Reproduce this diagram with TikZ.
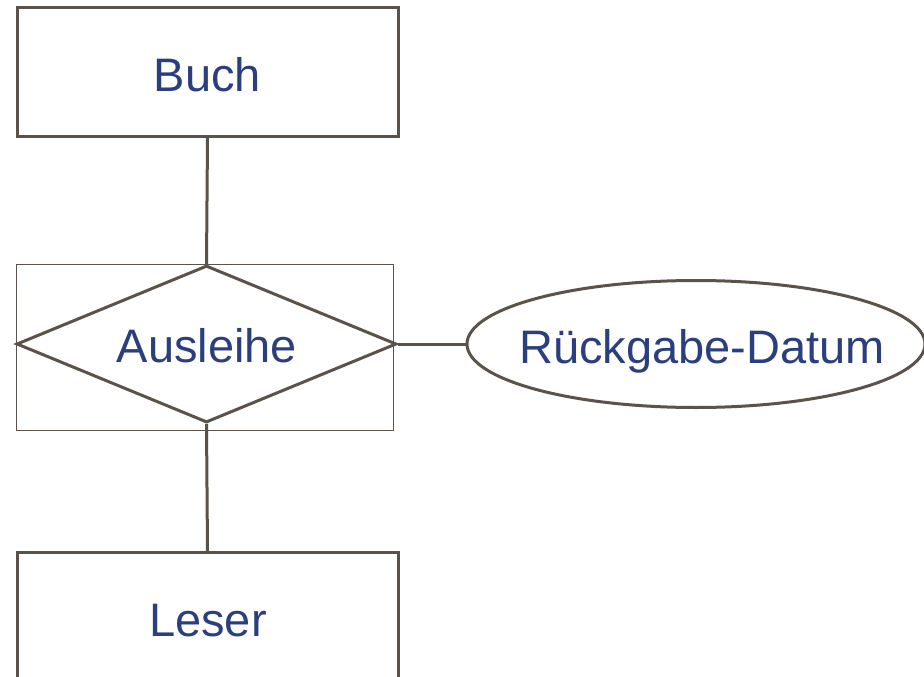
\documentclass[tikz,border=0pt]{standalone}
\usepackage{fontspec}
\setmainfont{Liberation Sans}
\usetikzlibrary{shapes.geometric}
\definecolor{linec}{HTML}{5B5249}
\definecolor{textc}{HTML}{2B3E7E}
\tikzset{
  entity/.style={draw=linec, line width=3pt, rectangle, inner sep=0pt, minimum width=381pt, minimum height=128pt},
  relbox/.style={draw=linec, line width=1pt, rectangle, inner sep=0pt, minimum width=377pt, minimum height=166pt},
  rel/.style={draw=linec, line width=3pt, diamond, inner sep=0pt, minimum width=380pt, minimum height=157pt},
  attr/.style={draw=linec, line width=3pt, ellipse, inner sep=0pt, minimum width=458pt, minimum height=127pt},
  conn/.style={draw=linec, line width=3pt},
  lbl/.style={text=textc, font=\fontsize{47}{56}\selectfont, anchor=base, inner sep=0pt}
}
\begin{document}
\begin{tikzpicture}[x=1pt,y=-1pt]
\useasboundingbox (0,0) rectangle (924,677);
\clip (0,0) rectangle (924,677);
\node[entity] (buch) at (207.5,72) {};
\node[relbox] (rbox) at (205.3,347.5) {};
\node[rel] (aus) at (206.5,344) {};
\node[attr] (datum) at (696,344) {};
\node[entity] (leser) at (207.5,616.7) {};
\draw[conn] (buch.south) -- (aus.north);
\draw[conn] (aus.south) -- (leser.north);
\draw[conn] (aus.east) -- (datum.west);
\node[lbl] (tbuch) at (207.5,92) {Buch};
\node[lbl] (taus) at (207,362) {Ausleihe};
\node[lbl] (tdatum) at (702,363) {Rückgabe-Datum};
\node[lbl] (tleser) at (208,636) {Leser};
\end{tikzpicture}
\end{document}
